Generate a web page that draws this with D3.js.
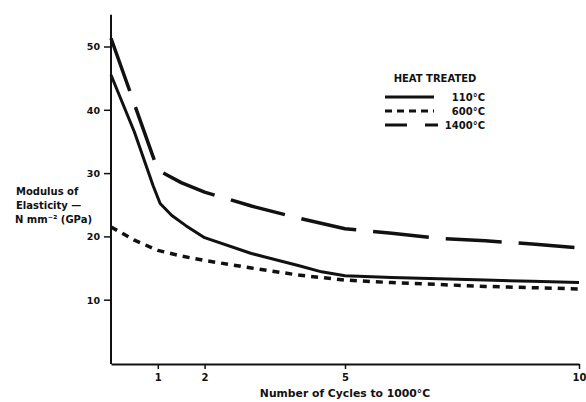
<!DOCTYPE html>
<html>
<head>
<meta charset="utf-8">
<script src="https://cdn.jsdelivr.net/npm/d3@7"></script>
<style>
  body { margin: 0; background: #fff; }
  text { font-family: "DejaVu Sans", sans-serif; font-weight: bold; fill: #111; }
</style>
</head>
<body>
<div id="chart"></div>
<script>
// values
var cycles110 = [0, 0.5, 0.9, 1.05, 1.3, 1.6, 2, 3, 4, 4.5, 5, 6, 7, 8, 9, 10];
var vals110   = [45.5, 36.5, 28, 25.2, 23.3, 21.7, 19.8, 17.3, 15.4, 14.4, 13.8, 13.5, 13.3, 13.1, 12.9, 12.7];

var cycles600 = [0, 0.5, 1, 1.5, 2, 3, 4, 5, 6, 7, 8, 9, 10];
var vals600   = [21.5, 19.4, 17.8, 16.9, 16.2, 15, 13.9, 13.1, 12.7, 12.4, 12.1, 11.9, 11.7];

var cycles1400 = [0, 1, 1.5, 2, 3, 4, 5, 6, 7, 8, 9, 10];
var vals1400   = [51.3, 30.5, 28.5, 27, 24.8, 22.9, 21.2, 20.5, 19.7, 19.3, 18.8, 18.2];

var xTicks = [1, 2, 5, 10];
var yTicks = [10, 20, 30, 40, 50];
var legendTitle = "HEAT TREATED";
var seriesNames = ["110°C", "600°C", "1400°C"];

var width = 586, height = 402;

var svg = d3.select("#chart")
  .append("svg")
    .attr("width", width)
    .attr("height", height);

var x = d3.scaleLinear().domain([0, 10]).range([111, 579]);
var y = d3.scaleLinear().domain([0, 50]).range([363, 46.5]);

// y axis: plain line with ticks on the left
var yAxis = svg.append("g")
  .attr("transform", "translate(" + x(0) + ",0)")
  .call(d3.axisLeft(y).tickValues(yTicks).tickSize(7).tickPadding(4).tickSizeOuter(0));
yAxis.select(".domain").remove();
yAxis.append("line")
  .attr("y1", y(55)).attr("y2", y(0) + 1)
  .attr("stroke", "#111").attr("stroke-width", 2);
yAxis.selectAll(".tick line").attr("stroke", "#111").attr("stroke-width", 1.5);
yAxis.selectAll(".tick text").attr("font-size", 9.5).attr("dy", "0.35em");

// x axis
var xAxis = svg.append("g")
  .attr("transform", "translate(0," + (y(0) + 1) + ")")
  .call(d3.axisBottom(x).tickValues(xTicks).tickSize(5).tickPadding(5).tickSizeOuter(0));
xAxis.select(".domain").attr("stroke", "#111").attr("stroke-width", 2);
xAxis.selectAll(".tick line").attr("stroke", "#111").attr("stroke-width", 1.5);
xAxis.selectAll(".tick text").attr("font-size", 10);

svg.append("text")
  .attr("x", 345).attr("y", 397)
  .attr("text-anchor", "middle")
  .attr("font-size", 10.8)
  .text("Number of Cycles to 1000°C");

var ylab = svg.append("text").attr("font-size", 10);
ylab.append("tspan").attr("x", 16).attr("y", 195).text("Modulus of");
ylab.append("tspan").attr("x", 16).attr("y", 209).text("Elasticity —");
ylab.append("tspan").attr("x", 15).attr("y", 223).text("N mm⁻² (GPa)");

var line = d3.line()
  .x(function(d) { return x(d[0]); })
  .y(function(d) { return y(d[1]); });

var styles = [
  { dash: null, width: 3 },
  { dash: "7,6", width: 3.5 },
  { dash: "56,17", width: 3.5 }
];

var series = [
  d3.zip(cycles110, vals110),
  d3.zip(cycles600, vals600),
  d3.zip(cycles1400, vals1400)
];

series.forEach(function(s, i) {
  svg.append("path")
    .datum(s)
    .attr("fill", "none")
    .attr("stroke", "#111")
    .attr("stroke-width", styles[i].width)
    .attr("stroke-linejoin", "round")
    .attr("stroke-dasharray", styles[i].dash)
    .attr("d", line);
});

// legend
svg.append("text")
  .attr("x", 435).attr("y", 82)
  .attr("text-anchor", "middle")
  .attr("font-size", 10)
  .text(legendTitle);

var legendDash = [null, "7,5", "22,18"];
seriesNames.forEach(function(name, i) {
  var ly = 97 + i * 14;
  svg.append("line")
    .attr("x1", 385).attr("x2", i == 2 ? 438 : 434)
    .attr("y1", ly).attr("y2", ly)
    .attr("stroke", "#111")
    .attr("stroke-width", 3)
    .attr("stroke-dasharray", legendDash[i]);
  svg.append("text")
    .attr("x", 485).attr("y", ly + 4)
    .attr("text-anchor", "end")
    .attr("font-size", 10)
    .text(name);
});
</script>
</body>
</html>
